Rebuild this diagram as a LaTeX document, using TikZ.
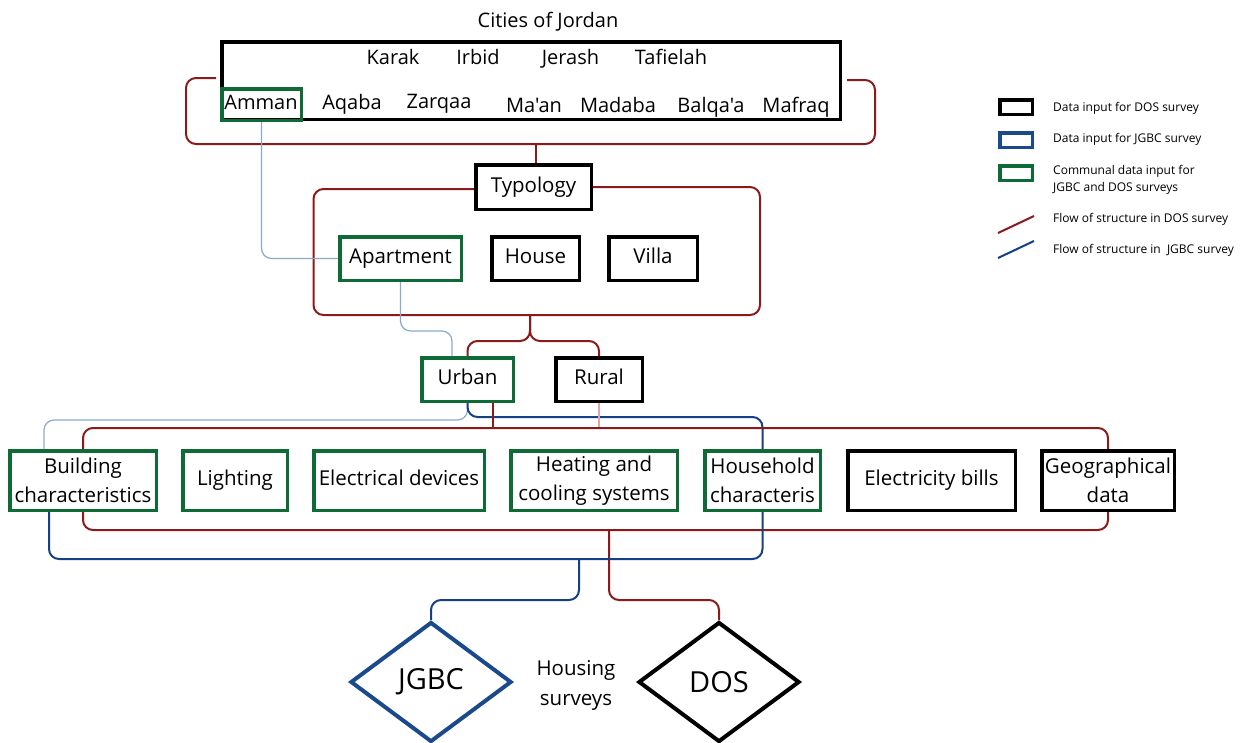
\documentclass[tikz,border=0pt]{standalone}
\usepackage{fontspec}
\setmainfont{Open Sans}[Ligatures=TeXOff]
\usetikzlibrary{shapes.geometric}
\definecolor{dgreen}{HTML}{0F6B35}
\definecolor{dred}{HTML}{8B1A1A}
\definecolor{dblue}{HTML}{163F86}
\definecolor{lblue}{HTML}{8AAACB}
\definecolor{pinkred}{HTML}{E3A5A5}
\definecolor{jblue}{HTML}{1A4A8C}
\begin{document}
\begin{tikzpicture}[x=1pt,y=-1pt,
  box/.style={draw, line width=3.5pt, inner sep=0pt, align=center, font=\fontsize{20.5}{29}\selectfont},
  one/.style={text height=15pt, text depth=5pt},
  bbox/.style={box, draw=black},
  gbox/.style={box, draw=dgreen},
  redl/.style={draw=dred, line width=2pt, rounded corners=10pt},
  bluel/.style={draw=dblue, line width=2pt, rounded corners=10pt},
  lbl/.style={draw=lblue, line width=1.2pt, rounded corners=10pt},
  pinkl/.style={draw=pinkred, line width=1.2pt},
  txt/.style={inner sep=0pt, anchor=base, font=\fontsize{20}{24}\selectfont},
  leg/.style={anchor=west, inner sep=0pt, font=\fontsize{12}{17}\selectfont, align=left},
  legbox/.style={draw, line width=3.5pt, inner sep=0pt, minimum width=32.5pt, minimum height=14.5pt},
  dia/.style={diamond, draw, line width=4pt, inner sep=0pt, minimum width=161pt, minimum height=120pt, font=\fontsize{29}{34}\selectfont}]
\useasboundingbox (0,0) rectangle (1244,742);

% --- Cities ---
\node[txt] (title) at (548,27) {Cities of Jordan};
\node[bbox, minimum width=618.5pt, minimum height=77.5pt] (cities) at (531,80.5) {};
\node[txt] (karak) at (393,64) {Karak};
\node[txt] (irbid) at (478,64) {Irbid};
\node[txt] (jerash) at (570.5,64) {Jerash};
\node[txt] (tafielah) at (671,64) {Tafielah};
\node[gbox, minimum width=79.5pt, minimum height=31.5pt] (amman) at (261.5,104.5) {};
\node[txt] (ammant) at (261,109.5) {Amman};
\node[txt] (aqaba) at (352,109) {Aqaba};
\node[txt] (zarqaa) at (439,108.5) {Zarqaa};
\node[txt] (maan) at (534,112) {Ma'an};
\node[txt] (madaba) at (618,112) {Madaba};
\node[txt] (balqaa) at (711,112) {Balqa'a};
\node[txt] (mafraq) at (796,112) {Mafraq};

% --- Typology ---
\node[bbox, one, minimum width=115.5pt, minimum height=44.5pt] (typology) at (533.5,187) {Typology};
\node[gbox, one, minimum width=121.5pt, minimum height=43.5pt] (apartment) at (400.5,258.5) {Apartment};
\node[bbox, one, minimum width=87.5pt, minimum height=43.5pt] (house) at (535.5,258.5) {House};
\node[bbox, one, minimum width=88.5pt, minimum height=43.5pt] (villa) at (653,258.5) {Villa};

% --- Urban / Rural ---
\node[gbox, one, minimum width=91.5pt, minimum height=43.5pt] (urban) at (467.5,379.5) {Urban};
\node[bbox, one, minimum width=86.5pt, minimum height=43.5pt] (rural) at (599,379.5) {Rural};

% --- Categories ---
\node[gbox, minimum width=146.5pt, minimum height=59.5pt] (bchar) at (83,480.5) {Building\\characteristics};
\node[gbox, one, minimum width=104.5pt, minimum height=59.5pt] (light) at (235,480.5) {Lighting};
\node[gbox, one, minimum width=170.5pt, minimum height=59.5pt] (elec) at (399,480.5) {Electrical devices};
\node[gbox, minimum width=166.5pt, minimum height=59.5pt] (heat) at (594,480.5) {Heating and\\cooling systems};
\node[gbox, minimum width=115.5pt, minimum height=59.5pt] (hhold) at (762.5,480.5) {Household\\characteris};
\node[bbox, one, minimum width=167.5pt, minimum height=59.5pt] (bills) at (931.5,480.5) {Electricity bills};
\node[bbox, minimum width=132.5pt, minimum height=59.5pt] (geo) at (1108,480.5) {Geographical\\data};

% --- Surveys ---
\node[dia, draw=jblue] (jgbc) at (431,682) {JGBC};
\node[dia, draw=black] (dos) at (719,682) {DOS};
\node[inner sep=0pt, align=center, font=\fontsize{20.5}{30}\selectfont] (housing) at (576,685) {Housing\\surveys};

% --- Connectors ---
\coordinate (cb1) at (216,78);
\coordinate (cb2) at (847,80);
\coordinate (cbm) at (536,144);
\draw[redl] (cb1) -- (186,78) -- (186,144) -- (875,144) -- (875,80) -- (cb2);
\draw[redl] (cbm) -- (cbm |- typology.north);
\coordinate (tbm) at (530,315);
\draw[redl] (typology.west |- 0,189) -- (313.5,189) -- (313.5,315) -- (760,315) -- (760,187) -- (typology.east |- 0,187);
\draw[redl] (tbm) -- (530,341) -| (urban.north);
\draw[redl] (tbm) -- (530,341) -| (rural.north);

\draw[lbl] (amman.south) |- (apartment.west);
\draw[lbl] (apartment.south) |- ([xshift=-15.5pt]urban.north |- 0,331) -- ([xshift=-15.5pt]urban.north);
\draw[lbl] (urban.south) -- (467.5,420) -- (44,420) -- ([xshift=-39pt]bchar.north);
\draw[bluel] (urban.south) -- (467.5,417) -| (hhold.north);
\draw[redl] ([xshift=25.5pt]urban.south) -- ([xshift=25.5pt]urban.south |- 0,428);
\draw[pinkl] (rural.south) -- (rural.south |- 0,428);

\draw[redl] (bchar.north) -- (83,428) -| (geo.north);
\draw[redl] (bchar.south) -- (83,530) -| (geo.south);
\coordinate (rd) at (609,530);
\draw[redl] (rd) -- (609,600) -| (dos.north);
\draw[bluel] ([xshift=-34pt]bchar.south) -- (49,559) -| (hhold.south);
\coordinate (bd) at (579,559);
\draw[bluel] (bd) -- (579,600) -| (jgbc.north);

% --- Legend ---
\node[legbox, draw=black] (lk1) at (1016,107) {};
\node[legbox, draw=jblue] (lk2) at (1016,140) {};
\node[legbox, draw=dgreen] (lk3) at (1016,173) {};
\node[leg] (lt1) at (1053,108) {Data input for DOS survey};
\node[leg] (lt2) at (1053,139) {Data input for JGBC survey};
\node[leg] (lt3) at (1053,179.5) {Communal data input for\\JGBC and DOS surveys};
\coordinate (lr1) at (998,233);
\coordinate (lr2) at (1034,216);
\coordinate (lb1) at (998,258);
\coordinate (lb2) at (1034,241);
\draw[dred, line width=2pt] (lr1) -- (lr2);
\draw[dblue, line width=2pt] (lb1) -- (lb2);
\node[leg] (lt4) at (1053,219) {Flow of structure in DOS survey};
\node[leg] (lt5) at (1053,250) {Flow of structure in\ \ JGBC survey};
\end{tikzpicture}
\end{document}
